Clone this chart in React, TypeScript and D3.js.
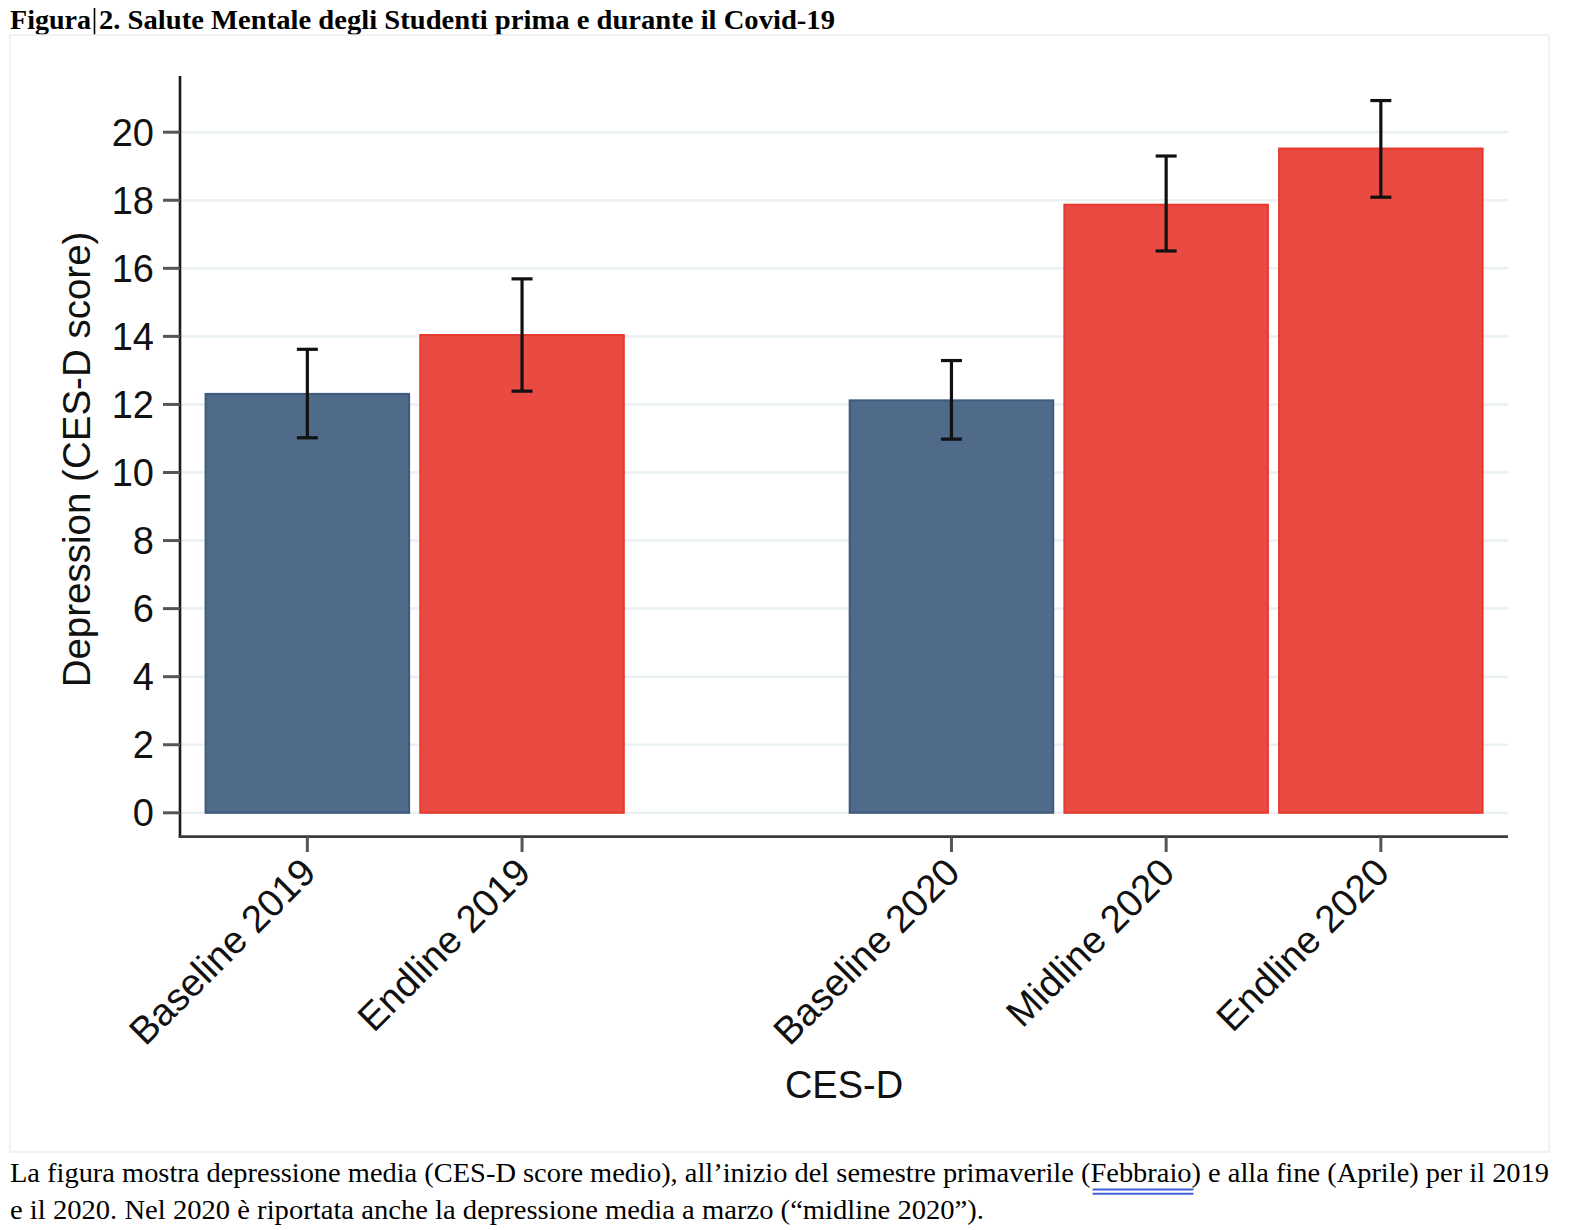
import React from "react";
import * as d3 from "d3";

// ---- data ----
const slots = ["Baseline 2019", "Endline 2019", "__gap__", "Baseline 2020", "Midline 2020", "Endline 2020"];
const labels = ["Baseline 2019", "Endline 2019", "Baseline 2020", "Midline 2020", "Endline 2020"];
const means = [12.31, 14.04, 12.12, 17.87, 19.52];
const lowerCI = [11.02, 12.39, 10.98, 16.51, 18.09];
const upperCI = [13.62, 15.69, 13.29, 19.3, 20.93];
const period = ["pre", "covid", "pre", "covid", "covid"];
const yTicks = [0, 2, 4, 6, 8, 10, 12, 14, 16, 18, 20];

const titleLead = "Figura";
const titleRest = "2. Salute Mentale degli Studenti prima e durante il Covid-19";
const yTitle = "Depression (CES-D score)";
const xTitle = "CES-D";
const captionLine1 =
  "La figura mostra depressione media (CES-D score medio), all\u2019inizio del semestre primaverile (Febbraio) e alla fine (Aprile) per il 2019";
const captionLine2 = "e il 2020. Nel 2020 \u00e8 riportata anche la depressione media a marzo (\u201cmidline 2020\u201d).";

const colors: Record<string, { fill: string; stroke: string }> = {
  pre: { fill: "#506a89", stroke: "#3f5a7c" },
  covid: { fill: "#e94a42", stroke: "#e8392f" },
};

const SANS = "'Liberation Sans', Arial, Helvetica, sans-serif";
const SERIF = "'Liberation Serif', 'Times New Roman', serif";

export default function App() {
  const W = 1582;
  const H = 1230;
  const y = d3.scaleLinear().domain([0, 20]).range([812.8, 132.2]);
  const x = d3
    .scaleBand<string>()
    .domain(slots)
    .range([200, 1488.2])
    .paddingInner(0.052)
    .paddingOuter(0.026);

  const axisX = 180;
  const axisY = 836.7;
  const axisTop = y(21.65);
  const gridEnd = 1508;
  const bw = x.bandwidth();
  const capW = 21;

  return (
    <svg
      width={W}
      height={H}
      style={{ position: "absolute", left: 0, top: 0, background: "#fff" }}
      xmlns="http://www.w3.org/2000/svg"
    >
      <rect x={0} y={0} width={W} height={H} fill="#fff" />
      {/* title */}
      <text x={10} y={28.5} fontFamily={SERIF} fontWeight="bold" fontSize={27.5} textLength={81} lengthAdjust="spacingAndGlyphs" fill="#000">
        {titleLead}
      </text>
      <line x1={94.5} x2={94.5} y1={8} y2={37} stroke="#000" strokeWidth={1.6} />
      <text x={99} y={28.5} fontFamily={SERIF} fontWeight="bold" fontSize={27.5} textLength={736} lengthAdjust="spacingAndGlyphs" fill="#000">
        {titleRest}
      </text>

      {/* graph region frame */}
      <rect x={10} y={35} width={1539} height={1117} fill="#fff" stroke="#eeeeee" strokeWidth={1.5} />

      {/* gridlines */}
      {yTicks.map((t) => (
        <line key={"g" + t} x1={axisX + 1} x2={gridEnd} y1={y(t)} y2={y(t)} stroke="#e9f1f3" strokeWidth={2.5} />
      ))}

      {/* bars */}
      {labels.map((lab, i) => {
        const c = colors[period[i]];
        const x0 = x(lab)!;
        return (
          <rect
            key={"b" + lab}
            x={x0}
            y={y(means[i])}
            width={bw}
            height={y(0) - y(means[i])}
            fill={c.fill}
            stroke={c.stroke}
            strokeWidth={2}
          />
        );
      })}

      {/* error bars */}
      {labels.map((lab, i) => {
        const cx = x(lab)! + bw / 2;
        return (
          <g key={"e" + lab} stroke="#111" strokeWidth={3.2}>
            <line x1={cx} x2={cx} y1={y(upperCI[i])} y2={y(lowerCI[i])} />
            <line x1={cx - capW / 2} x2={cx + capW / 2} y1={y(upperCI[i])} y2={y(upperCI[i])} />
            <line x1={cx - capW / 2} x2={cx + capW / 2} y1={y(lowerCI[i])} y2={y(lowerCI[i])} />
          </g>
        );
      })}

      {/* y axis */}
      <line x1={axisX} x2={axisX} y1={axisTop} y2={axisY + 1.2} stroke="#1a1a1a" strokeWidth={2.6} />
      {yTicks.map((t) => (
        <g key={"yt" + t}>
          <line x1={163} x2={axisX} y1={y(t)} y2={y(t)} stroke="#555" strokeWidth={3} />
          <text x={154} y={y(t) + 13.6} textAnchor="end" fontFamily={SANS} fontSize={38} fill="#111">
            {t}
          </text>
        </g>
      ))}
      <text
        transform={`translate(89.5, 459.5) rotate(-90)`}
        textAnchor="middle"
        fontFamily={SANS}
        fontSize={38.5}
        fill="#111"
      >
        {yTitle}
      </text>

      {/* x axis */}
      <line x1={axisX - 1.3} x2={gridEnd} y1={axisY} y2={axisY} stroke="#3a3a3a" strokeWidth={2.8} />
      {labels.map((lab) => {
        const cx = x(lab)! + bw / 2;
        return (
          <g key={"xt" + lab}>
            <line x1={cx} x2={cx} y1={axisY} y2={852} stroke="#555" strokeWidth={3} />
            <text
              transform={`translate(${cx + 1}, 865) rotate(-45)`}
              textAnchor="end"
              dy="0.35em"
              fontFamily={SANS}
              fontSize={38.5}
              fill="#111"
            >
              {lab}
            </text>
          </g>
        );
      })}
      <text x={844} y={1098.3} textAnchor="middle" fontFamily={SANS} fontSize={38} fill="#111">
        {xTitle}
      </text>

      {/* caption */}
      <text x={10} y={1182} fontFamily={SERIF} fontSize={28.2} fill="#000" textLength={1539} lengthAdjust="spacingAndGlyphs">
        {captionLine1}
      </text>
      <line x1={1092.6} x2={1193.5} y1={1189.5} y2={1189.5} stroke="#3f63d6" strokeWidth={2} />
      <line x1={1092.6} x2={1193.5} y1={1193.8} y2={1193.8} stroke="#3f63d6" strokeWidth={2} />
      <text x={10} y={1219} fontFamily={SERIF} fontSize={28.2} fill="#000" textLength={974} lengthAdjust="spacingAndGlyphs">
        {captionLine2}
      </text>
    </svg>
  );
}
